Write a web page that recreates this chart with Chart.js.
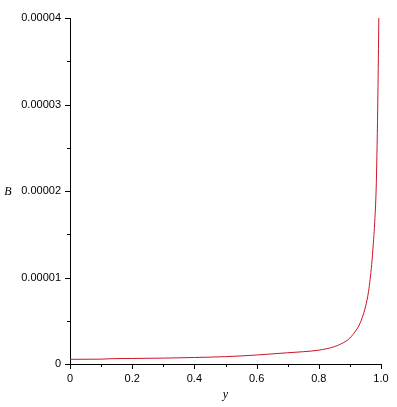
<!DOCTYPE html>
<html>
<head>
<meta charset="utf-8">
<script src="https://cdn.jsdelivr.net/npm/chart.js@4"></script>
<style>
  html, body { margin: 0; padding: 0; background: #fff; }
  #wrap { width: 397px; height: 407px; }
</style>
</head>
<body>
<div id="wrap"><canvas id="plot"></canvas></div>
<script>
// values
const yValues = [0, 0.1, 0.14, 0.2, 0.3, 0.4, 0.5, 0.6, 0.7, 0.75, 0.8, 0.85, 0.87, 0.89, 0.9, 0.92, 0.93, 0.94, 0.95, 0.96, 0.97, 0.975, 0.98, 0.985, 0.99, 0.993];
const bValues = [0.54e-6, 0.56e-6, 0.62e-6, 0.64e-6, 0.68e-6, 0.75e-6, 0.85e-6, 1.04e-6, 1.3e-6, 1.42e-6, 1.6e-6, 2.0e-6, 2.3e-6, 2.7e-6, 3.0e-6, 3.9e-6, 4.5e-6, 5.4e-6, 6.6e-6, 8.4e-6, 11.5e-6, 13.8e-6, 16.5e-6, 21e-6, 31e-6, 40e-6];
const xTickLabels = ['0', '0.2', '0.4', '0.6', '0.8', '1.0'];
const yTickLabels = ['0', '0.00001', '0.00002', '0.00003', '0.00004'];

const tickFont = { family: 'Liberation Sans, Arial, sans-serif', size: 11 };

// ticks drawn by hand so minor ones can be shorter
const tickMarks = {
    id: 'tickMarks',
    afterDraw(chart) {
        const ctx = chart.ctx;
        const xs = chart.scales.x, ys = chart.scales.y;
        const area = chart.chartArea;
        ctx.save();
        ctx.strokeStyle = '#000';
        ctx.lineWidth = 1;
        ctx.beginPath();
        xs.ticks.forEach(t => {
            const px = Math.round(xs.getPixelForValue(t.value)) + 0.5;
            const len = t.label ? 5 : 3;
            ctx.moveTo(px, area.bottom);
            ctx.lineTo(px, area.bottom + len);
        });
        ys.ticks.forEach(t => {
            const py = Math.round(ys.getPixelForValue(t.value)) + 0.5;
            const len = t.label ? 5 : 3;
            ctx.moveTo(area.left, py);
            ctx.lineTo(area.left - len, py);
        });
        ctx.stroke();

        ctx.fillStyle = '#000';
        ctx.font = 'italic 12px "Liberation Serif", "Times New Roman", serif';
        ctx.textAlign = 'center';
        ctx.textBaseline = 'middle';
        ctx.fillText('B', 8, ys.getPixelForValue(0.00002) + 1);
        ctx.fillText('y', (area.left + area.right) / 2, 395);
        ctx.restore();
    }
};

const points = yValues.map((v, i) => ({ x: v, y: bValues[i] }));

new Chart(document.getElementById('plot'), {
    type: 'scatter',
    data: {
        datasets: [{
            data: points,
            showLine: true,
            borderColor: 'rgb(205, 20, 40)',
            borderWidth: 1,
            pointRadius: 0,
            cubicInterpolationMode: 'monotone'
        }]
    },
    options: {
        responsive: true,
        maintainAspectRatio: false,
        animation: false,
        layout: { padding: { top: 18, right: 16, left: 0, bottom: 0 } },
        plugins: { legend: { display: false }, tooltip: { enabled: false } },
        scales: {
            x: {
                type: 'linear',
                min: 0,
                max: 1,
                afterFit: s => { s.height = 43; },
                border: { display: true, color: '#000', width: 1 },
                grid: { display: false, drawTicks: false },
                ticks: {
                    stepSize: 0.1,
                    padding: 8,
                    color: '#000',
                    font: tickFont,
                    maxRotation: 0,
                    autoSkip: false,
                    callback: v => {
                        const k = Math.round(v * 10);
                        return k % 2 === 0 ? xTickLabels[k / 2] : '';
                    }
                }
            },
            y: {
                type: 'linear',
                min: 0,
                max: 0.00004,
                afterFit: s => { s.width = 70; },
                border: { display: true, color: '#000', width: 1 },
                grid: { display: false, drawTicks: false },
                ticks: {
                    stepSize: 0.000005,
                    padding: 9,
                    color: '#000',
                    font: tickFont,
                    autoSkip: false,
                    callback: v => {
                        const k = Math.round(v * 200000);
                        return k % 2 === 0 ? yTickLabels[k / 2] : '';
                    }
                }
            }
        }
    },
    plugins: [tickMarks]
});
</script>
</body>
</html>
